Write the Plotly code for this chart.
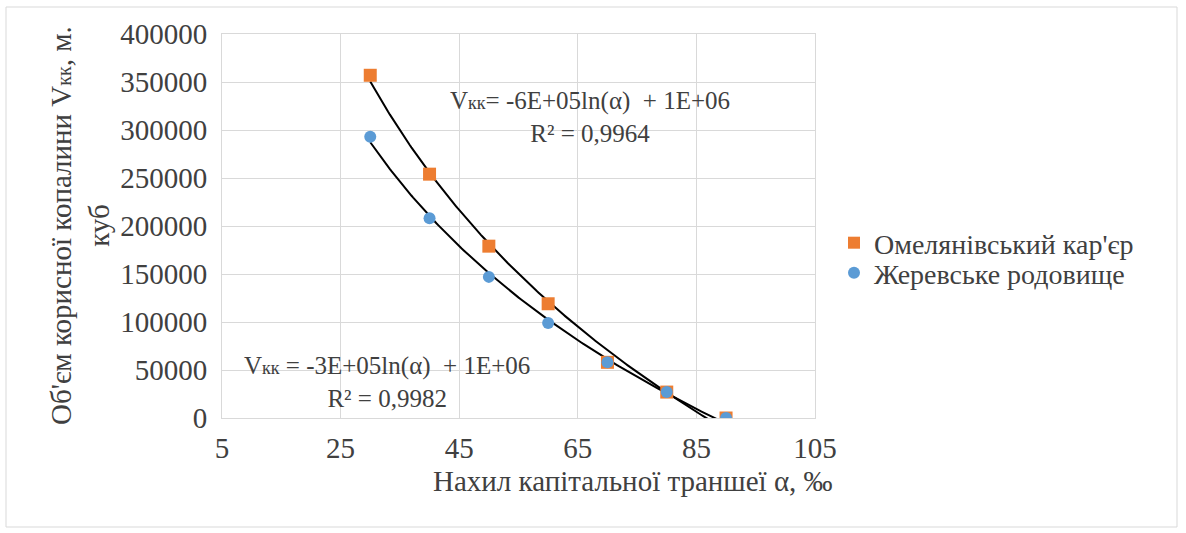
import numpy as np
import plotly.graph_objects as go

# Data
alpha = [30, 40, 50, 60, 70, 80, 90]
omel_values = [357000, 254000, 179000, 119000, 58000, 27000, 0]
zher_values = [293000, 208000, 147000, 99000, 58000, 27000, 0]
series_names = ["Омелянівський кар'єр", "Жеревське родовище"]
x_ticks = [5, 25, 45, 65, 85, 105]
y_ticks = [0, 50000, 100000, 150000, 200000, 250000, 300000, 350000, 400000]

FONT = "Liberation Serif"
TXT = "#404040"
ORANGE = "#ED7D31"
BLUE = "#5B9BD5"

# Plot area in pixels
W, H = 1186, 533
L, R, T, B = 222, 815, 34, 418


def px(xp):
    return (xp - L) / (R - L)


def py(yp):
    return (B - yp) / (B - T)


def log_fit(xs, ys):
    a, b = np.polyfit(np.log(xs), ys, 1)
    xx = np.linspace(min(xs), max(xs), 200)
    return xx, a * np.log(xx) + b


fig = go.Figure()

xx1, yy1 = log_fit(np.array(alpha, float), np.array(omel_values, float))
xx2, yy2 = log_fit(np.array(alpha, float), np.array(zher_values, float))

fig.add_trace(go.Scatter(x=xx1, y=yy1, mode="lines", line=dict(color="black", width=2),
                         showlegend=False, hoverinfo="skip"))
fig.add_trace(go.Scatter(x=xx2, y=yy2, mode="lines", line=dict(color="black", width=2),
                         showlegend=False, hoverinfo="skip"))

fig.add_trace(go.Scatter(x=alpha, y=omel_values, mode="markers", name=series_names[0],
                         legend="legend",
                         marker=dict(symbol="square", size=13, color=ORANGE)))
fig.add_trace(go.Scatter(x=alpha, y=zher_values, mode="markers", name=series_names[1],
                         legend="legend2",
                         marker=dict(symbol="circle", size=12, color=BLUE)))

legend_common = dict(xanchor="left", yanchor="middle",
                     font=dict(family=FONT, size=28, color=TXT),
                     bgcolor="rgba(0,0,0,0)", itemsizing="constant", itemwidth=30)

fig.update_layout(
    width=W, height=H,
    margin=dict(l=L, r=W - R, t=T, b=H - B),
    paper_bgcolor="white", plot_bgcolor="white",
    font=dict(family=FONT, size=28, color=TXT),
    xaxis=dict(range=[5, 105], tickvals=x_ticks, showgrid=True, gridcolor="#D9D9D9",
               gridwidth=1, zeroline=False, showline=True, linecolor="#D9D9D9",
               mirror=True, ticks="", ticklabelstandoff=4,
               tickfont=dict(family=FONT, size=29, color=TXT)),
    yaxis=dict(range=[0, 400000], tickvals=y_ticks, ticktext=[str(v) for v in y_ticks],
               showgrid=True, gridcolor="#D9D9D9", gridwidth=1, zeroline=False,
               showline=True, linecolor="#D9D9D9", mirror=True, ticks="",
               ticklabelstandoff=8,
               tickfont=dict(family=FONT, size=29, color=TXT)),
    legend=dict(x=px(834), y=py(243), **legend_common),
    legend2=dict(x=px(834), y=py(273), **legend_common),
    showlegend=True,
)

annotations = [
    dict(text="Нахил капітальної траншеї α, ‰", x=px(633), y=py(481),
         xanchor="center", yanchor="middle", xref="paper", yref="paper",
         showarrow=False, font=dict(family=FONT, size=29, color=TXT)),
    dict(text="Об'єм корисної копалини V<span style='font-size:20px'>кк</span>, м.<br>куб",
         x=px(80), y=py(226), xanchor="center", yanchor="middle",
         xref="paper", yref="paper", textangle=-90, showarrow=False,
         font=dict(family=FONT, size=29, color=TXT)),
    dict(text="V<span style='font-size:18px'>кк</span>= -6E+05ln(α)  + 1E+06<br>R² = 0,9964",
         x=px(590), y=py(117), xanchor="center", yanchor="middle",
         xref="paper", yref="paper", showarrow=False,
         font=dict(family=FONT, size=25, color=TXT)),
    dict(text="V<span style='font-size:18px'>кк</span> = -3E+05ln(α)  + 1E+06<br>R² = 0,9982",
         x=px(387), y=py(382), xanchor="center", yanchor="middle",
         xref="paper", yref="paper", showarrow=False,
         font=dict(family=FONT, size=25, color=TXT)),
]
fig.update_layout(annotations=annotations)

fig.add_shape(type="rect", xref="paper", yref="paper",
              x0=px(6), x1=px(1177), y0=py(527), y1=py(7),
              line=dict(color="#D9D9D9", width=1), layer="below")

fig.write_html("out.html")
